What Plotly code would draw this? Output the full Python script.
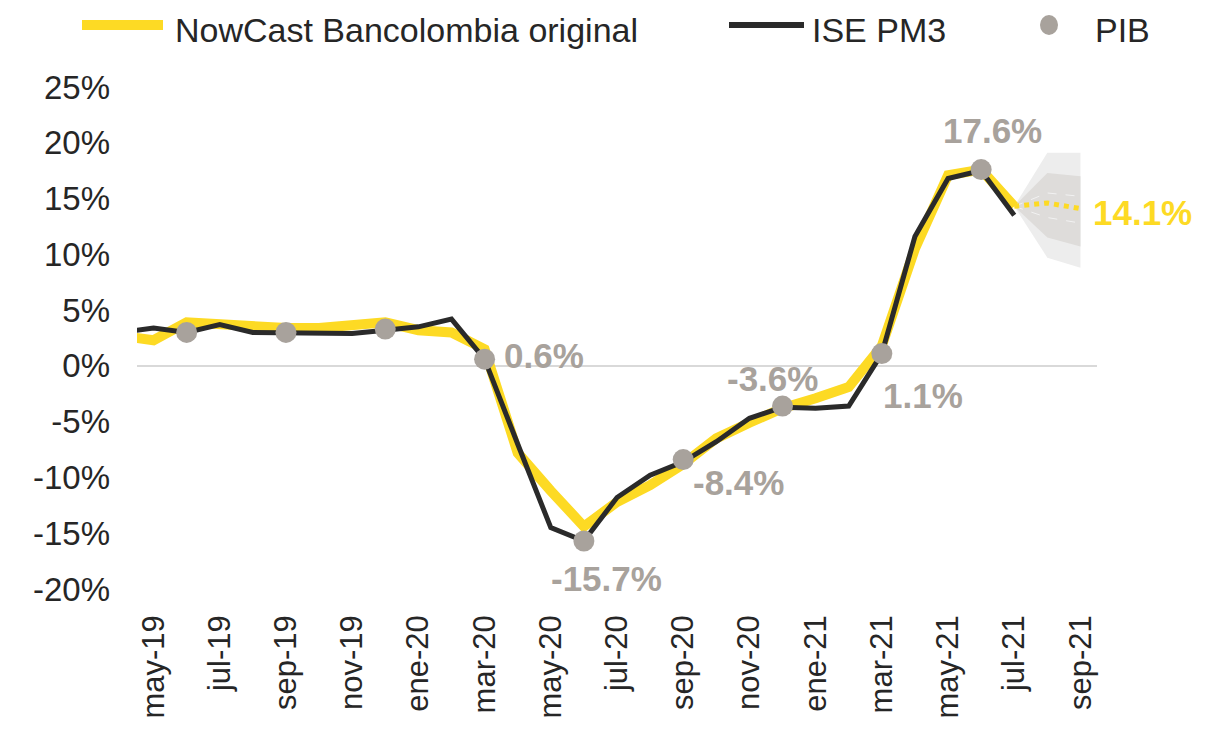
import plotly.graph_objects as go

# ---------------- data ----------------
months = ['abr-19', 'may-19', 'jun-19', 'jul-19', 'ago-19', 'sep-19', 'oct-19', 'nov-19', 'dic-19',
          'ene-20', 'feb-20', 'mar-20', 'abr-20', 'may-20', 'jun-20', 'jul-20', 'ago-20', 'sep-20',
          'oct-20', 'nov-20', 'dic-20', 'ene-21', 'feb-21', 'mar-21', 'abr-21', 'may-21', 'jun-21',
          'jul-21', 'ago-21', 'sep-21']

nowcast = [2.7, 2.3, 3.9, 3.7, 3.4, 3.4, 3.4, 3.7, 3.9, 3.2, 3.0, 1.5, -7.8, -11.2, -14.4, -12.2,
           -10.7, -8.8, -6.5, -5.1, -3.8, -2.9, -1.9, 1.8, 10.5, 17.1, 17.6, 14.3]
ise_pm3 = [3.0, 3.4, 3.0, 3.7, 3.0, 3.0, 2.9, 2.9, 3.2, 3.5, 4.2, 0.6, -7.0, -14.5, -15.7, -11.8,
           -9.8, -8.6, -6.8, -4.7, -3.7, -3.8, -3.6, 1.1, 11.6, 16.8, 17.5, 13.5]

pib_months = ['jun-19', 'sep-19', 'dic-19', 'mar-20', 'jun-20', 'sep-20', 'dic-20', 'mar-21', 'jun-21']
pib = [3.0, 3.0, 3.3, 0.6, -15.7, -8.4, -3.6, 1.1, 17.6]
pib_labeled = [False, False, False, True, True, True, True, True, True]

fc_months = ['jul-21', 'ago-21', 'sep-21']
forecast = [14.3, 14.6, 14.1]
fan_outer_hi = [14.3, 19.1, 19.1]
fan_outer_lo = [14.3, 9.7, 8.8]
fan_mid_hi = [14.3, 17.3, 17.0]
fan_mid_lo = [14.3, 11.5, 10.7]
fan_inner_hi = [14.3, 15.5, 15.2]
fan_inner_lo = [14.3, 13.3, 12.8]

y_ticks = [-20, -15, -10, -5, 0, 5, 10, 15, 20, 25]
y_tick_labels = ['-20%', '-15%', '-10%', '-5%', '0%', '5%', '10%', '15%', '20%', '25%']
tick_labels = months[1::2]

# ---------------- style ----------------
YELLOW = '#FDDA24'
BLACK = '#2A2A2A'
GRAY = '#A8A29C'
TXT = '#262626'
FONT = 'Liberation Sans, Arial, sans-serif'

idx = {m: i for i, m in enumerate(months)}
x_all = [idx[m] for m in months]
x_hist = x_all[:len(nowcast)]
x_pib = [idx[m] for m in pib_months]
x_fc = [idx[m] for m in fc_months]

fig = go.Figure()

# fan chart
fig.add_trace(go.Scatter(x=x_fc + x_fc[::-1], y=fan_outer_hi + fan_outer_lo[::-1],
                         fill='toself', fillcolor='#EDEDED', line=dict(width=0),
                         mode='lines', hoverinfo='skip', showlegend=False))
fig.add_trace(go.Scatter(x=x_fc + x_fc[::-1], y=fan_mid_hi + fan_mid_lo[::-1],
                         fill='toself', fillcolor='#DEDCDA', line=dict(width=0),
                         mode='lines', hoverinfo='skip', showlegend=False))
for band in (fan_inner_hi, fan_inner_lo):
    fig.add_trace(go.Scatter(x=x_fc, y=band, mode='lines',
                             line=dict(color='#F2F2F2', width=1, dash='dash'),
                             hoverinfo='skip', showlegend=False))

# series
fig.add_trace(go.Scatter(x=x_hist, y=nowcast, mode='lines', name='NowCast Bancolombia original',
                         line=dict(color=YELLOW, width=10), showlegend=False))
fig.add_trace(go.Scatter(x=x_fc, y=forecast, mode='lines', name='Pronóstico',
                         line=dict(color=YELLOW, width=5, dash='dot'), showlegend=False))
fig.add_trace(go.Scatter(x=x_hist, y=ise_pm3, mode='lines', name='ISE PM3',
                         line=dict(color=BLACK, width=5), showlegend=False))
fig.add_trace(go.Scatter(x=x_pib, y=pib, mode='markers', name='PIB',
                         marker=dict(color=GRAY, size=21), showlegend=False))

# PIB labels (offsets in px)
offsets = {3: (17, 4, 'left'), 4: (23, -37, 'center'), 5: (55, -23, 'center'),
           6: (-10, 28, 'center'), 7: (41, -42, 'center'), 8: (11, 39, 'center')}
for i, (xm, v) in enumerate(zip(x_pib, pib)):
    if not pib_labeled[i]:
        continue
    dx, dy, anc = offsets[i]
    fig.add_annotation(x=xm, y=v, text=f'{v:.1f}%', showarrow=False, xanchor=anc,
                       xshift=dx, yshift=dy,
                       font=dict(family=FONT, size=35, color=GRAY, weight='bold'))

fig.add_annotation(x=x_fc[-1], y=forecast[-1], text=f'{forecast[-1]:.1f}%', showarrow=False,
                   xanchor='left', xshift=11, yshift=-4,
                   font=dict(family=FONT, size=35, color=YELLOW, weight='bold'))

# page layout: the HTML body adds an 8px margin, so the figure is offset by it
OFF = 8
FIG_W, FIG_H = 1216 - 2 * OFF, 732 - 2 * OFF
W0, W1 = 137 - OFF, 1097 - OFF
T0, B0 = 87 - OFF, 589 - OFF


def px(x):
    return (x - OFF - W0) / (W1 - W0)


def py(y):
    return (B0 - (y - OFF)) / (B0 - T0)


# manual legend (page pixel positions -> paper coords)
ly = py(25)
fig.add_shape(type='line', xref='paper', yref='paper', x0=px(82), x1=px(163), y0=ly, y1=ly,
              line=dict(color=YELLOW, width=10))
fig.add_shape(type='line', xref='paper', yref='paper', x0=px(729), x1=px(804), y0=ly, y1=ly,
              line=dict(color=BLACK, width=6))
fig.add_shape(type='circle', xref='paper', yref='paper', xsizemode='pixel', ysizemode='pixel',
              xanchor=px(1049), yanchor=ly, x0=-9, x1=9, y0=-10, y1=10,
              fillcolor=GRAY, line=dict(width=0))
for text, xl in (('NowCast Bancolombia original', 173), ('ISE PM3', 810), ('PIB', 1093)):
    fig.add_annotation(xref='paper', yref='paper', x=px(xl), y=py(9), text=text, showarrow=False,
                       xanchor='left', yanchor='top',
                       font=dict(family=FONT, size=34, color=TXT))

fig.update_layout(
    width=FIG_W, height=FIG_H,
    margin=dict(l=W0, r=FIG_W - W1, t=T0, b=FIG_H - B0),
    paper_bgcolor='white', plot_bgcolor='white',
    xaxis=dict(range=[0.5, 29.5], tickmode='array', tickvals=x_all[1::2], ticktext=tick_labels,
               tickangle=-90, showgrid=False, zeroline=False, showline=False, ticks='',
               automargin=False,
               tickfont=dict(family=FONT, size=31, color=TXT), ticklabelstandoff=19),
    yaxis=dict(range=[-20, 25], tickmode='array', tickvals=y_ticks, ticktext=y_tick_labels,
               showgrid=False, zeroline=True, zerolinecolor='#D9D9D9',
               zerolinewidth=2, showline=False, ticks='', automargin=False,
               tickfont=dict(family=FONT, size=33, color=TXT), ticklabelstandoff=26),
)

fig.write_html('out.html')
